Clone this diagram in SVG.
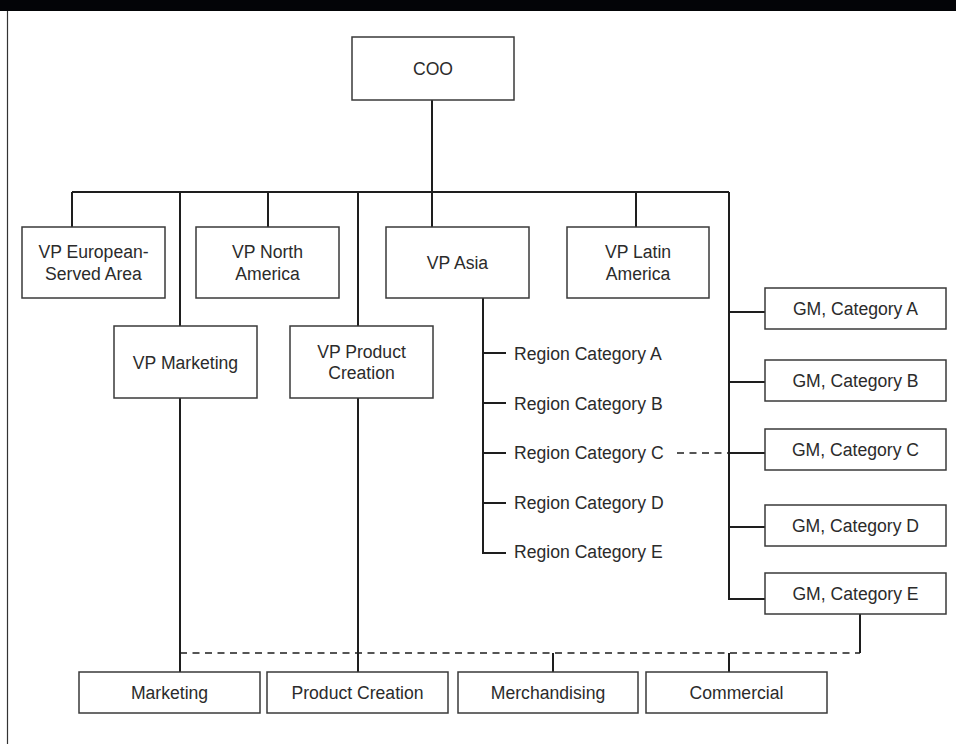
<svg xmlns="http://www.w3.org/2000/svg" width="956" height="744" viewBox="0 0 956 744">
<style>
.box{fill:#fff;stroke:#3a3a3a;stroke-width:1.5}
.t{font-family:"Liberation Sans",Arial,sans-serif;font-size:17.6px;fill:#2b2b2b;text-anchor:middle;dominant-baseline:central}
.tl{font-family:"Liberation Sans",Arial,sans-serif;font-size:17.6px;fill:#2b2b2b;text-anchor:start;dominant-baseline:central}
.c{fill:none;stroke:#1e1e1e;stroke-width:2}
.d{fill:none;stroke:#1e1e1e;stroke-width:1.5;stroke-dasharray:7 5.5}
</style>
<rect x="0" y="0" width="956" height="744" fill="#fff"/>
<rect x="0" y="0" width="956" height="11" fill="#030407"/>
<line x1="7.5" y1="11" x2="7.5" y2="744" stroke="#333" stroke-width="1.2"/>
<g id="connectors">
<path class="c" d="M432 100V192M72 192H729M72 192V227M180 192V672M268 192V227M358 192V672M432 192V227M636 192V227M729 192V599H765"/>
<path class="c" d="M729 312H765M729 382H765M729 453H765M729 527H765"/>
<path class="c" d="M483 298V553H506M483 353H506M483 403H506M483 453H506M483 503H506"/>
<path class="d" d="M677 453H729"/>
<path class="d" d="M180 653H860"/>
<path class="c" d="M860 614V653M553 653V672M729 653V672"/>
</g>
<g id="coo"><rect class="box" x="352" y="37" width="162" height="63"/><text class="t" x="433" y="69">COO</text></g>
<g id="vp-europe"><rect class="box" x="22" y="227" width="143" height="71"/><text class="t" x="93.5" y="251.5">VP European-</text><text class="t" x="93.5" y="273.5">Served Area</text></g>
<g id="vp-north-america"><rect class="box" x="196" y="227" width="143" height="71"/><text class="t" x="267.5" y="251.5">VP North</text><text class="t" x="267.5" y="273.5">America</text></g>
<g id="vp-asia"><rect class="box" x="386" y="227" width="143" height="71"/><text class="t" x="457.5" y="262.5">VP Asia</text></g>
<g id="vp-latin-america"><rect class="box" x="567" y="227" width="142" height="71"/><text class="t" x="638" y="251.5">VP Latin</text><text class="t" x="638" y="273.5">America</text></g>
<g id="vp-marketing"><rect class="box" x="114" y="326" width="143" height="72"/><text class="t" x="185.5" y="363">VP Marketing</text></g>
<g id="vp-product-creation"><rect class="box" x="290" y="326" width="143" height="72"/><text class="t" x="361.5" y="351.5">VP Product</text><text class="t" x="361.5" y="373">Creation</text></g>
<g id="region-a"><text class="tl" x="514" y="354">Region Category A</text></g>
<g id="region-b"><text class="tl" x="514" y="403.5">Region Category B</text></g>
<g id="region-c"><text class="tl" x="514" y="453">Region Category C</text></g>
<g id="region-d"><text class="tl" x="514" y="503">Region Category D</text></g>
<g id="region-e"><text class="tl" x="514" y="552">Region Category E</text></g>
<g id="gm-a"><rect class="box" x="765" y="288" width="181" height="41"/><text class="t" x="855.5" y="309">GM, Category A</text></g>
<g id="gm-b"><rect class="box" x="765" y="360" width="181" height="41"/><text class="t" x="855.5" y="380.5">GM, Category B</text></g>
<g id="gm-c"><rect class="box" x="765" y="429" width="181" height="41"/><text class="t" x="855.5" y="450">GM, Category C</text></g>
<g id="gm-d"><rect class="box" x="765" y="505" width="181" height="41"/><text class="t" x="855.5" y="526">GM, Category D</text></g>
<g id="gm-e"><rect class="box" x="765" y="573" width="181" height="41"/><text class="t" x="855.5" y="594">GM, Category E</text></g>
<g id="marketing"><rect class="box" x="79" y="672" width="181" height="41"/><text class="t" x="169.5" y="692.5">Marketing</text></g>
<g id="product-creation"><rect class="box" x="267" y="672" width="181" height="41"/><text class="t" x="357.5" y="692.5">Product Creation</text></g>
<g id="merchandising"><rect class="box" x="458" y="672" width="180" height="41"/><text class="t" x="548" y="692.5">Merchandising</text></g>
<g id="commercial"><rect class="box" x="646" y="672" width="181" height="41"/><text class="t" x="736.5" y="692.5">Commercial</text></g>
</svg>
